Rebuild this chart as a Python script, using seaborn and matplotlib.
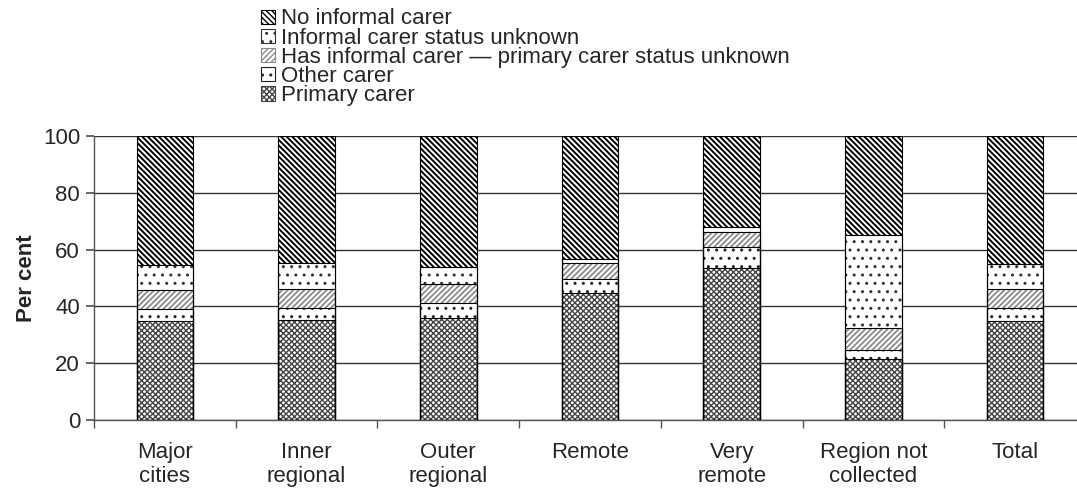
import numpy as np
import pandas as pd
import matplotlib
matplotlib.use("Agg")
import matplotlib.pyplot as plt
import seaborn as sns
from matplotlib.patches import Patch

regions = ["Major\ncities", "Inner\nregional", "Outer\nregional", "Remote",
           "Very\nremote", "Region not\ncollected", "Total"]

primary_carer = [34.7, 35.2, 35.9, 44.8, 53.4, 21.4, 35.0]
other_carer = [4.5, 4.2, 5.2, 5.0, 7.4, 3.2, 4.4]
has_carer_unknown = [6.6, 6.8, 6.8, 5.4, 5.5, 7.7, 6.6]
carer_status_unknown = [8.7, 9.0, 6.1, 1.4, 1.5, 32.7, 8.9]
no_informal_carer = [45.5, 44.8, 46.0, 43.4, 32.2, 35.0, 45.1]

series = ["Primary carer", "Other carer",
          "Has informal carer \u2014 primary carer status unknown",
          "Informal carer status unknown", "No informal carer"]
values = [primary_carer, other_carer, has_carer_unknown,
          carer_status_unknown, no_informal_carer]

# hatch, hatch colour, hatch width for each series (bottom to top)
styles = [("xxxxxx", "#444444", 1.0), ("..", "#222222", 1.0),
          ("//////", "#8a8a8a", 1.3), ("..", "#333333", 1.0),
          ("\\\\\\\\\\\\", "#000000", 1.4)]

sns.set_theme(style="white")
plt.rcParams["font.family"] = ["Liberation Sans", "DejaVu Sans"]


def set_hw(patch, w):
    if hasattr(patch, "set_hatch_linewidth"):
        patch.set_hatch_linewidth(w)
    else:
        patch._hatch_linewidth = w


fig = plt.figure(figsize=(10.77, 4.9), dpi=100)
ax = fig.add_axes([94 / 1077, 70 / 490, 992 / 1077, 284 / 490])

cum = np.cumsum(np.array(values), axis=0)
df = pd.DataFrame({"region": regions})

# draw cumulative totals from the top down so each lower series covers the rest
for i in range(len(series) - 1, -1, -1):
    df["top"] = cum[i]
    hatch, hcol, hw = styles[i]
    plt.rcParams["hatch.linewidth"] = hw
    n0 = len(ax.patches)
    sns.barplot(data=df, x="region", y="top", color="white", width=0.4,
                edgecolor=hcol, linewidth=0, hatch=hatch, ax=ax, zorder=2)
    for p in ax.patches[n0:]:
        set_hw(p, hw)
    sns.barplot(data=df, x="region", y="top", fill=False, width=0.4,
                edgecolor="black", linewidth=0.8, ax=ax, zorder=3)

ax.set_xlim(-0.5, 6.5)
ax.set_ylim(0, 100)
ax.set_yticks([0, 20, 40, 60, 80, 100])
ax.yaxis.grid(True, color="#333333", linewidth=1)
ax.set_axisbelow(True)
for s in ["top", "right"]:
    ax.spines[s].set_visible(False)
for s in ["left", "bottom"]:
    ax.spines[s].set_color("#555555")
    ax.spines[s].set_linewidth(1)

ax.tick_params(axis="y", which="major", direction="out", length=6,
               left=True, labelsize=16, color="#555555", pad=4)
ax.tick_params(axis="x", which="major", length=0, labelsize=16, pad=16)
ax.set_xticks(np.arange(-0.5, 7, 1), minor=True)
ax.tick_params(axis="x", which="minor", direction="out", length=6,
               bottom=True, color="#555555")
ax.set_xlabel("")
ax.set_ylabel("Per cent", fontsize=16, fontweight="bold", labelpad=4)

handles = []
for i in range(len(series) - 1, -1, -1):
    hatch, hcol, hw = styles[i]
    plt.rcParams["hatch.linewidth"] = min(hw, 1.0)
    p = Patch(facecolor="white", edgecolor=hcol, hatch=hatch,
              linewidth=0.8, label=series[i])
    set_hw(p, min(hw, 1.0))
    handles.append(p)
leg = fig.legend(handles=handles, loc="upper left",
                 bbox_to_anchor=(248 / 1077, 1.01), frameon=False,
                 fontsize=16, handlelength=0.6, handleheight=0.6,
                 handletextpad=0.3, labelspacing=-0.08, borderpad=0.1)

fig.savefig("out.png", dpi=100)
